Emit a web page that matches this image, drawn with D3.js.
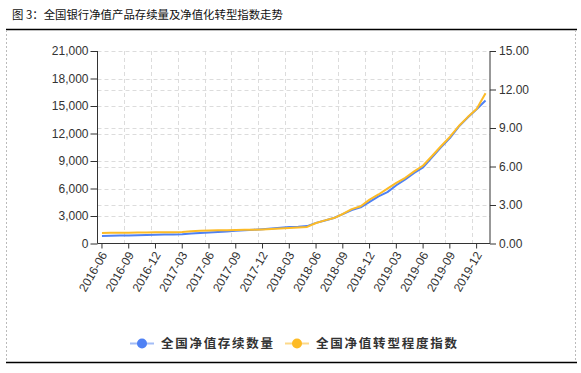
<!DOCTYPE html>
<html>
<head>
<meta charset="utf-8">
<script src="https://cdn.jsdelivr.net/npm/d3@7"></script>
<style>
  body { margin: 0; background: #fff; }
  svg { display: block; }
</style>
</head>
<body>
<script>
'use strict';

// months 2016-06 .. 2020-01
const months = ["2016-06","2016-07","2016-08","2016-09","2016-10","2016-11","2016-12",
  "2017-01","2017-02","2017-03","2017-04","2017-05","2017-06","2017-07","2017-08","2017-09",
  "2017-10","2017-11","2017-12","2018-01","2018-02","2018-03","2018-04","2018-05","2018-06",
  "2018-07","2018-08","2018-09","2018-10","2018-11","2018-12","2019-01","2019-02","2019-03",
  "2019-04","2019-05","2019-06","2019-07","2019-08","2019-09","2019-10","2019-11","2019-12",
  "2020-01"];

// 全国净值存续数量 (left axis)
const countValues = [820,840,860,880,910,930,950,970,980,1000,1080,1150,1210,1260,1320,1380,
  1440,1500,1560,1640,1720,1800,1830,1900,2250,2500,2780,3200,3650,3950,4550,5150,5600,6350,
  7000,7700,8300,9400,10500,11500,12750,13750,14650,15600];

// 全国净值转型程度指数 (right axis)
const indexValues = [0.82,0.83,0.83,0.84,0.85,0.86,0.87,0.88,0.88,0.89,0.96,1.00,1.02,1.03,
  1.04,1.05,1.07,1.08,1.10,1.13,1.16,1.20,1.24,1.29,1.60,1.80,1.98,2.30,2.68,2.90,3.42,3.82,
  4.28,4.72,5.12,5.62,6.08,6.82,7.58,8.30,9.15,9.85,10.48,11.70];

const leftTicks = [0,3000,6000,9000,12000,15000,18000,21000];
const rightTicks = [0,3,6,9,12,15];
const xTickLabels = months.filter((d, i) => i % 3 === 0 && i < 43);

const seriesNames = ["全国净值存续数量", "全国净值转型程度指数"];
const colors = ["#4f81f4", "#fdbb26"];
const lightColors = ["#a3bdf7", "#fcd98a"];

(function() {
  let width = 581, height = 373;
  let plot = {left: 97.5, right: 490, top: 51, bottom: 243.5};

  let svg = d3.select('body').append('svg')
    .attr('width', width)
    .attr('height', height);

  // title
  svg.append('text')
    .attr('x', 12)
    .attr('y', 18.5)
    .style('font-family', '"Noto Sans CJK SC", sans-serif')
    .style('font-size', '11.4px')
    .attr('fill', '#111')
    .text("图 3：全国银行净值产品存续量及净值化转型指数走势");

  // frame
  svg.append('line').attr('x1', 6).attr('x2', 577).attr('y1', 29.5).attr('y2', 29.5)
    .attr('stroke', '#000').attr('stroke-width', 1.3);
  svg.append('line').attr('x1', 6).attr('x2', 577).attr('y1', 362.5).attr('y2', 362.5)
    .attr('stroke', '#000').attr('stroke-width', 1.3);
  [6.5, 575.5].forEach((x) => {
    svg.append('line').attr('x1', x).attr('x2', x).attr('y1', 30).attr('y2', 362)
      .attr('stroke', '#bbb').attr('stroke-dasharray', '2,2');
  });

  // scales
  let xScale = d3.scaleBand()
    .domain(months)
    .range([plot.left, plot.right]);
  let xMid = (d) => xScale(d) + xScale.bandwidth() / 2;

  let yLeft = d3.scaleLinear().domain([0, 21000]).range([plot.bottom, plot.top]);
  let yRight = d3.scaleLinear().domain([0, 15]).range([plot.bottom, plot.top]);

  // grid lines
  let grid = svg.append('g')
    .attr('stroke', '#dcdcdc')
    .attr('stroke-dasharray', '4,3');
  xTickLabels.slice(1).forEach((m) => {
    let x = Math.round(xScale(m)) + 0.5;
    grid.append('line').attr('x1', x).attr('x2', x)
      .attr('y1', plot.top).attr('y2', plot.bottom);
  });
  leftTicks.slice(1).forEach((v) => {
    let y = Math.round(yLeft(v)) + 0.5;
    grid.append('line').attr('x1', plot.left).attr('x2', plot.right)
      .attr('y1', y).attr('y2', y);
  });
  rightTicks.slice(1, -1).forEach((v) => {
    let y = Math.round(yRight(v)) + 0.5;
    grid.append('line').attr('x1', plot.left).attr('x2', plot.right)
      .attr('y1', y).attr('y2', y);
  });

  // axes
  let styleAxis = function(g) {
    g.selectAll('path, line').attr('stroke', '#333');
    g.selectAll('text')
      .attr('fill', '#333')
      .style('font-family', '"Liberation Sans", Arial, sans-serif')
      .style('font-size', '12px');
  };

  svg.append('g')
    .attr('transform', `translate(${plot.left}, 0)`)
    .call(d3.axisLeft(yLeft).tickValues(leftTicks).tickFormat(d3.format(',')).tickSize(7).tickSizeOuter(0).tickPadding(2))
    .call(styleAxis)
    .call((g) => g.select('.domain').remove());

  svg.append('g')
    .attr('transform', `translate(${plot.right}, 0)`)
    .call(d3.axisRight(yRight).tickValues(rightTicks).tickFormat(d3.format('.2f')).tickSize(6).tickSizeOuter(0).tickPadding(3))
    .call(styleAxis)
    .call((g) => g.select('.domain').remove());

  // axis lines drawn separately so they meet cleanly
  svg.append('line').attr('x1', plot.left).attr('x2', plot.left)
    .attr('y1', plot.top).attr('y2', plot.bottom).attr('stroke', '#333');
  svg.append('line').attr('x1', plot.right).attr('x2', plot.right)
    .attr('y1', plot.top).attr('y2', plot.bottom).attr('stroke', '#333');

  let xAxis = svg.append('g')
    .attr('transform', `translate(0, ${plot.bottom})`)
    .call(d3.axisBottom(xScale).tickValues(xTickLabels).tickSize(5).tickSizeOuter(0))
    .call(styleAxis);
  xAxis.select('.domain').attr('d', `M${plot.left},0H${plot.right}`);
  xAxis.selectAll('text')
    .attr('text-anchor', 'end')
    .attr('y', 0)
    .attr('dy', '0.35em')
    .attr('transform', 'translate(2, 9) rotate(-60)');

  // lines
  let series = [
    {values: countValues, y: yLeft},
    {values: indexValues, y: yRight}
  ];
  series.forEach((s, k) => {
    let line = d3.line()
      .x((d, i) => xMid(months[i]))
      .y((d) => s.y(d));
    svg.append('path')
      .datum(s.values)
      .attr('d', line)
      .attr('fill', 'none')
      .attr('stroke', colors[k])
      .attr('stroke-width', 2)
      .attr('stroke-linejoin', 'round');
  });

  // legend
  let legendItems = [
    {x: 130, textX: 161, textLen: 112},
    {x: 285, textX: 316, textLen: 141}
  ];
  legendItems.forEach((item, k) => {
    let g = svg.append('g');
    g.append('line')
      .attr('x1', item.x).attr('x2', item.x + 24)
      .attr('y1', 343.5).attr('y2', 343.5)
      .attr('stroke', lightColors[k]).attr('stroke-width', 2);
    g.append('circle')
      .attr('cx', item.x + 12).attr('cy', 343.5).attr('r', 5)
      .attr('fill', colors[k]);
    g.append('text')
      .attr('x', item.textX).attr('y', 348)
      .attr('textLength', item.textLen)
      .attr('lengthAdjust', 'spacing')
      .style('font-family', '"Noto Sans CJK SC", sans-serif')
      .style('font-size', '12.5px')
      .style('font-weight', 'bold')
      .attr('fill', '#333')
      .text(seriesNames[k]);
  });
})();
</script>
</body>
</html>
